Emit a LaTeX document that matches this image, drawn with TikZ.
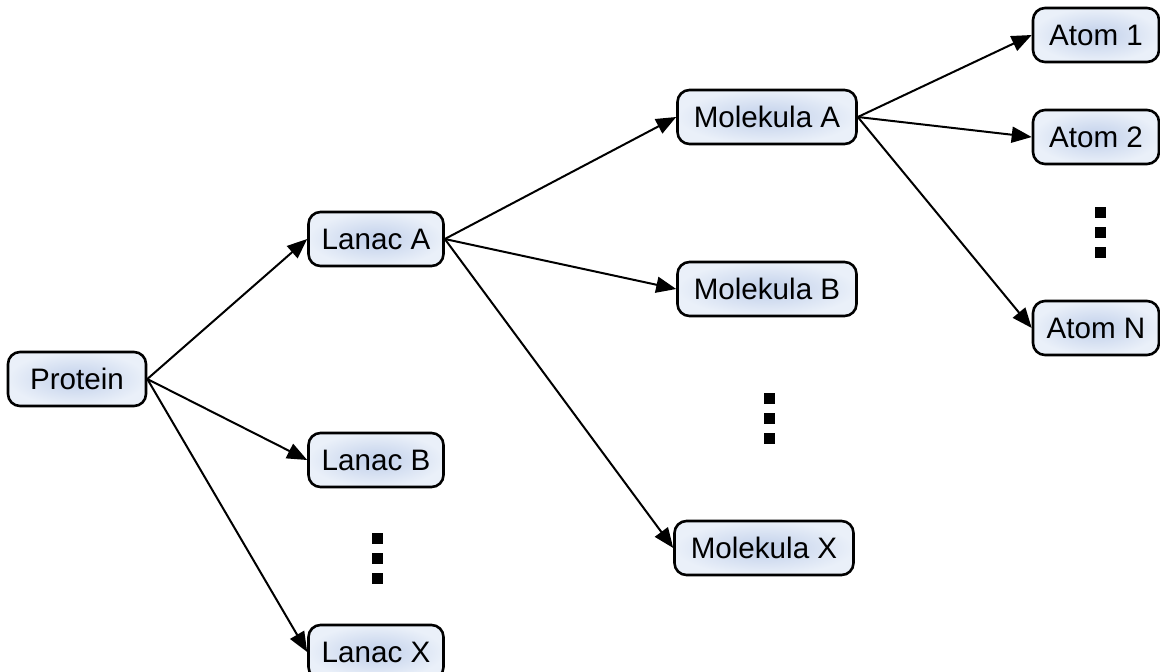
\documentclass[tikz,border=0pt]{standalone}
\usepackage{fontspec}
\setmainfont{Liberation Sans}
\usetikzlibrary{arrows.meta}

\definecolor{boiteclair}{RGB}{234,240,249}
\definecolor{boitefonce}{RGB}{192,207,234}

\tikzset{
  boite/.style={draw=black, line width=1.3pt, rounded corners=6pt,
    inner color=boitefonce, outer color=boiteclair,
    minimum height=27pt, inner sep=0pt,
    font=\fontsize{14.8}{17}\selectfont},
  fleche/.style={-{Triangle[length=10pt,width=8pt]}, line width=1pt}
}

\begin{document}
\begin{tikzpicture}[x=0.5pt,y=-0.5pt]
  \useasboundingbox (0,0) rectangle (1160,671);

  % les boites
  \node[boite, minimum width=69pt] (protein) at (77,379) {Protein};
  \foreach \nom/\y/\texte in {lanacA/239/Lanac A, lanacB/460/Lanac B, lanacX/652/Lanac X}
    \node[boite, minimum width=67.5pt] (\nom) at (376,\y) {\texte};
  \foreach \nom/\x/\y/\texte in {molA/767/117/Molekula A, molB/767/289/Molekula B, molX/764/548/Molekula X}
    \node[boite, minimum width=89.5pt] (\nom) at (\x,\y) {\texte};
  \foreach \nom/\y/\texte in {atom1/35/Atom 1, atom2/137/Atom 2, atomN/328/Atom N}
    \node[boite, minimum width=63pt] (\nom) at (1096,\y) {\texte};

  % les fleches
  \foreach \fils in {lanacA,lanacB,lanacX}
    \draw[fleche] (protein.east) -- (\fils.west);
  \foreach \fils in {molA,molB,molX}
    \draw[fleche] (lanacA.east) -- (\fils.west);
  \foreach \fils in {atom1,atom2,atomN}
    \draw[fleche] (molA.east) -- (\fils.west);

  % les points de suspension
  \foreach \x/\y in {377.5/538, 769.5/398.5, 1100.5/212}
    \foreach \k in {0,1,2}
      \fill (\x-5.5,\y+20*\k-5.5) rectangle (\x+5.5,\y+20*\k+5.5);
\end{tikzpicture}
\end{document}
